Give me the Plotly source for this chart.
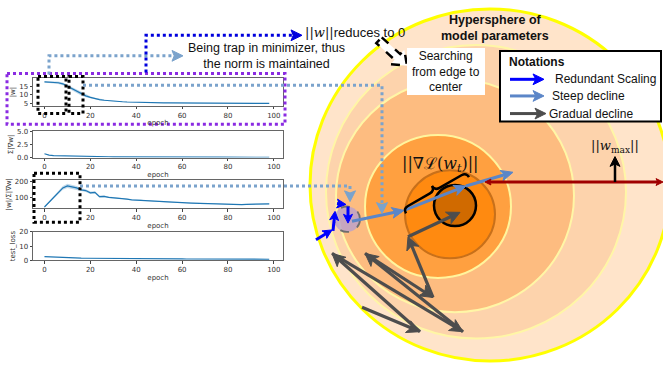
import math
import plotly.graph_objects as go

W, H = 663, 367

# ---------------- training curves (sampled every 2 epochs) ----------------
epochs = list(range(0, 100, 2))

w_norm = [17.4, 17.3, 17.2, 16.9, 16.3, 14.9, 13.5, 12.0, 10.6, 9.5,
          8.6, 7.9, 7.4, 7.0, 6.7, 6.5, 6.3, 6.15, 6.0, 5.9,
          5.82, 5.76, 5.7, 5.66, 5.62, 5.58, 5.55, 5.52, 5.49, 5.47,
          5.45, 5.43, 5.41, 5.39, 5.38, 5.36, 5.35, 5.34, 5.33, 5.32,
          5.31, 5.3, 5.29, 5.28, 5.27, 5.26, 5.25, 5.25, 5.24, 5.23]
w_norm_spread = [0.4, 0.5, 0.6, 0.7, 0.8, 0.9, 1.0, 1.0, 0.9, 0.8,
                 0.6, 0.5, 0.4, 0.3, 0.25, 0.2, 0.18, 0.15, 0.12, 0.1,
                 0.08, 0.08, 0.08, 0.08, 0.08, 0.08, 0.08, 0.08, 0.08, 0.08,
                 0.08, 0.08, 0.08, 0.08, 0.08, 0.08, 0.08, 0.08, 0.08, 0.08,
                 0.08, 0.08, 0.08, 0.08, 0.08, 0.08, 0.08, 0.08, 0.08, 0.08]

grad_sum = [0.72, 0.46, 0.38, 0.35, 0.33, 0.31, 0.29, 0.27, 0.25, 0.23,
            0.21, 0.19, 0.18, 0.17, 0.16, 0.15, 0.14, 0.13, 0.125, 0.12,
            0.115, 0.11, 0.105, 0.1, 0.098, 0.095, 0.092, 0.09, 0.088, 0.086,
            0.084, 0.082, 0.08, 0.079, 0.078, 0.077, 0.076, 0.075, 0.074, 0.073,
            0.072, 0.071, 0.07, 0.069, 0.068, 0.067, 0.066, 0.065, 0.064, 0.063]

ratio = [40, 70, 100, 130, 162, 175, 168, 162, 150, 145,
         131, 134, 106, 108, 102, 100, 96, 94, 90, 86,
         84, 86, 80, 79, 76, 75, 73, 71, 70, 69,
         68, 66, 65, 64, 62, 61, 60, 59, 58, 57,
         57, 56, 57, 56, 57, 58, 59, 59, 60, 60]
ratio_spread = [4, 6, 8, 10, 12, 14, 14, 12, 10, 9,
                8, 7, 6, 5, 5, 4, 4, 3, 3, 3,
                2, 2, 2, 2, 2, 2, 2, 2, 2, 2,
                2, 2, 2, 2, 2, 2, 2, 2, 2, 2,
                2, 2, 2, 2, 2, 2, 2, 2, 2, 2]

test_loss = [2.6, 2.4, 2.3, 2.1, 1.9, 1.7, 1.6, 1.55, 1.5, 1.45,
             1.4, 1.38, 1.35, 1.32, 1.3, 1.28, 1.25, 1.22, 1.2, 1.18,
             1.15, 1.12, 1.1, 1.08, 1.05, 1.03, 1.0, 0.98, 0.96, 0.95,
             0.93, 0.92, 0.9, 0.89, 0.88, 0.87, 0.86, 0.85, 0.84, 0.83,
             0.82, 0.81, 0.8, 0.79, 0.78, 0.77, 0.76, 0.75, 0.74, 0.73]

x_ticks = [0, 20, 40, 60, 80, 100]
panel_labels = ["|w|", "Σ|∇w|", "|w|/Σ|∇w|", "test_loss"]
panel_ticks = [[5, 10, 15], [0, 2.5, 5], [100, 200], [0, 10, 20]]
panel_tick_text = [["5", "10", "15"], ["0.0", "2.5", "5.0"], ["100", "200"], ["0", "10", "20"]]
panel_ranges = [[3.9, 19.4], [0, 5], [31, 212], [0, 20]]
panel_series = [(w_norm, w_norm_spread), (grad_sum, None), (ratio, ratio_spread), (test_loss, None)]

# pixel rows (top, bottom) of each small panel
panel_rows = [(76, 104), (130, 157), (180, 209), (233, 262)]

LINE = "#1f77b4"
BAND = "rgba(31,119,180,0.28)"
MPL_FONT = "DejaVu Sans"
SANS = "Liberation Sans"
SERIF = "DejaVu Serif"

fig = go.Figure()
layout = {}

for i, ((top, bottom), (vals, spread)) in enumerate(zip(panel_rows, panel_series), start=1):
    sid = "" if i == 1 else str(i)
    xa, ya = "x" + sid, "y" + sid
    if spread is not None:
        lower = [v - s for v, s in zip(vals, spread)]
        upper = [v + s for v, s in zip(vals, spread)]
        fig.add_trace(go.Scatter(x=epochs, y=lower, xaxis=xa, yaxis=ya, mode="lines",
                                 line=dict(width=0), hoverinfo="skip", showlegend=False))
        fig.add_trace(go.Scatter(x=epochs, y=upper, xaxis=xa, yaxis=ya, mode="lines",
                                 line=dict(width=0), fill="tonexty", fillcolor=BAND,
                                 hoverinfo="skip", showlegend=False))
    fig.add_trace(go.Scatter(x=epochs, y=vals, xaxis=xa, yaxis=ya, mode="lines",
                             line=dict(color=LINE, width=1.2), showlegend=False))
    common = dict(showline=True, mirror=True, linecolor="#666", linewidth=1,
                  showgrid=False, zeroline=False, ticks="outside", ticklen=2.5,
                  tickwidth=0.8, tickcolor="#444",
                  tickfont=dict(size=7, family=MPL_FONT, color="#333"))
    layout["xaxis" + sid] = dict(domain=[33 / W, 283 / W], anchor=ya, range=[-5, 104],
                                 tickvals=x_ticks,
                                 title=dict(text="epoch", standoff=1,
                                            font=dict(size=7, family=MPL_FONT, color="#333")),
                                 **common)
    layout["yaxis" + sid] = dict(domain=[1 - bottom / H, 1 - top / H], anchor=xa,
                                 range=panel_ranges[i - 1], tickvals=panel_ticks[i - 1],
                                 ticktext=panel_tick_text[i - 1],
                                 title=dict(text=panel_labels[i - 1], standoff=2,
                                            font=dict(size=7, family=MPL_FONT, color="#333")),
                                 **common)

# ---------------- illustration layer (pixel-unit axis over the whole page) ----------------
DX, DY = "x5", "y5"
layout["xaxis5"] = dict(domain=[0, 1], range=[0, W], visible=False, fixedrange=True, anchor="y5")
layout["yaxis5"] = dict(domain=[0, 1], range=[H, 0], visible=False, fixedrange=True, anchor="x5")
fig.add_trace(go.Scatter(x=[None], y=[None], xaxis=DX, yaxis=DY, showlegend=False, hoverinfo="skip"))

shapes = []
annotations = []


def circle(cx, cy, r, fill, edge, width, dash="solid"):
    shapes.append(dict(type="circle", xref=DX, yref=DY, x0=cx - r, x1=cx + r, y0=cy - r, y1=cy + r,
                       fillcolor=fill, line=dict(color=edge, width=width, dash=dash), layer="above"))


def rect(x0, y0, x1, y1, edge=None, width=0, dash="solid", fill="rgba(0,0,0,0)"):
    shapes.append(dict(type="rect", xref=DX, yref=DY, x0=x0, y0=y0, x1=x1, y1=y1, fillcolor=fill,
                       line=dict(color=edge or "rgba(0,0,0,0)", width=width, dash=dash), layer="above"))


def polyline(points, color, width, dash="solid"):
    d = "M " + " L ".join(f"{x},{y}" for x, y in points)
    shapes.append(dict(type="path", xref=DX, yref=DY, path=d,
                       line=dict(color=color, width=width, dash=dash), layer="above"))


def head(tx, ty, ux, uy, color, length, width, notch=0.25):
    px, py = -uy, ux
    bx, by = tx - ux * length, ty - uy * length
    nx, ny = tx - ux * length * (1 - notch), ty - uy * length * (1 - notch)
    d = (f"M {tx},{ty} L {bx + px * width / 2},{by + py * width / 2} L {nx},{ny} "
         f"L {bx - px * width / 2},{by - py * width / 2} Z")
    shapes.append(dict(type="path", xref=DX, yref=DY, path=d, fillcolor=color,
                       line=dict(color=color, width=1), layer="above"))
    return nx, ny


def arrow(p0, p1, color, width, length=10, hw=10, notch=0.25):
    (x0, y0), (x1, y1) = p0, p1
    L = math.hypot(x1 - x0, y1 - y0)
    ux, uy = (x1 - x0) / L, (y1 - y0) / L
    nx, ny = head(x1, y1, ux, uy, color, length, hw, notch)
    polyline([(x0, y0), (nx + ux, ny + uy)], color, width)


def text(s, x, y, size=12, family=SANS, color="#111", xanchor="center"):
    annotations.append(dict(text=s, x=x, y=y, xref=DX, yref=DY, showarrow=False,
                            xanchor=xanchor, yanchor="middle",
                            font=dict(size=size, family=family, color=color)))


# nested shells of the parameter hypersphere
circle(490, 185, 180, "#FFE4CA", "#FFFF00", 3)
circle(476, 192, 150, "#FDD3AC", "#FFF6A6", 2)
circle(455, 196, 119, "#FDBC80", "#FFF6A6", 2)
circle(438, 207, 73, "#FFA040", "#FFF59D", 2)
circle(450, 215, 45, "#FF8A10", "#C8701A", 2)
circle(455, 206, 21, "#D06A00", "#000000", 2.5)

# region visited while redundant scaling
circle(347, 220, 13, "rgba(185,160,205,0.8)", "#6E6E6E", 1.8, dash="dash")

# gradual-decline trajectory
gradual_path = [(362, 310), (420, 335), (332, 255), (463, 335), (365, 255), (433, 300), (408, 238), (460, 213)]
GRAY = "#4D4D4D"
for a, b in zip(gradual_path[:-1], gradual_path[1:]):
    arrow(a, b, GRAY, 3.2, length=13, hw=13)

# steep-decline trajectory
STEEP = "#5B86C8"
steep_path = [(352, 222), (404, 211), (466, 186), (513, 172)]
for a, b in zip(steep_path[:-1], steep_path[1:]):
    arrow(a, b, STEEP, 3, length=12, hw=11)

# redundant-scaling jitter
BLUE = "#0000FF"
for a, b in [((316, 241), (332, 231)), ((333, 232), (335, 212)),
             ((337, 204), (346, 205)), ((348, 207), (348, 224))]:
    arrow(a, b, BLUE, 3, length=9, hw=9)

# curly brace along the gradient step
A, B, h = (406, 214), (469, 177), 11
Lb = math.hypot(B[0] - A[0], B[1] - A[1])
ux, uy = (B[0] - A[0]) / Lb, (B[1] - A[1]) / Lb
nx_, ny_ = uy, -ux
if ny_ > 0:
    nx_, ny_ = -nx_, -ny_


def bp(t, s):
    return f"{A[0] + ux * t + nx_ * s:.2f},{A[1] + uy * t + ny_ * s:.2f}"


q = h / 2
brace = (f"M {bp(0, 0)} Q {bp(0, q)} {bp(q, q)} L {bp(Lb / 2 - q, q)} "
         f"Q {bp(Lb / 2, q)} {bp(Lb / 2, 2 * q)} Q {bp(Lb / 2, q)} {bp(Lb / 2 + q, q)} "
         f"L {bp(Lb - q, q)} Q {bp(Lb, q)} {bp(Lb, 0)}")
shapes.append(dict(type="path", xref=DX, yref=DY, path=brace,
                   line=dict(color="#000", width=2.5), layer="above"))
text("||∇ℒ(<i>w</i><sub><i>t</i></sub>)||", 440, 164, size=16, family=SERIF, color="#111")

# radius of the hypersphere
RED = "#A00000"
polyline([(489, 182), (657, 182)], RED, 3)
head(663, 182, 1, 0, RED, 7, 7)
head(485, 182, -1, 0, RED, 6, 6)
arrow((615, 182), (615, 156), "#000", 2.5, length=10, hw=10)
text("||<i>w</i><sub>max</sub>||", 615, 146, size=13, family=SERIF, color="#111")

# title of the hypersphere
text("<b>Hypersphere of<br>model parameters</b>", 495, 25, size=12.5)

# "searching" icon and caption
icon_tail, icon_tip = (379, 37), (407, 63)
Li = math.hypot(icon_tip[0] - icon_tail[0], icon_tip[1] - icon_tail[1])
iu = ((icon_tip[0] - icon_tail[0]) / Li, (icon_tip[1] - icon_tail[1]) / Li)
ip = (-iu[1], iu[0])


def ipt(t, s):
    return f"{icon_tail[0] + iu[0] * t + ip[0] * s:.2f},{icon_tail[1] + iu[1] * t + ip[1] * s:.2f}"


icon = (f"M {ipt(0, -4)} L {ipt(Li - 13, -4)} L {ipt(Li - 13, -10)} L {ipt(Li, 0)} "
        f"L {ipt(Li - 13, 10)} L {ipt(Li - 13, 4)} L {ipt(0, 4)} Z")
shapes.append(dict(type="path", xref=DX, yref=DY, path=icon, fillcolor="#FFFFFF",
                   line=dict(color="#000", width=2.5, dash="dash"), layer="above"))
rect(407, 45, 485, 93, fill="#FFFFFF")
text("Searching<br>from edge to<br>center", 446, 69, size=12)

# notation box
rect(500, 48, 661, 120, edge="#000", width=2, fill="#FFFFFF")
text("<b>Notations</b>", 507, 59, size=12, xanchor="left")
arrow((510, 77), (544, 77), BLUE, 3, length=11, hw=11)
text("Redundant Scaling", 553, 77, size=12, xanchor="left")
arrow((510, 94), (544, 94), STEEP, 3, length=11, hw=11)
text("Steep decline", 550, 94, size=12, xanchor="left")
arrow((510, 112), (546, 112), GRAY, 3, length=11, hw=11)
text("Gradual decline", 547, 112, size=12, xanchor="left")

# highlight frames on the training curves
rect(7, 71, 285, 123, edge="#8A2BE2", width=3, dash="dot")
rect(38, 74, 66, 112, edge="#000", width=3, dash="dot")
rect(69, 74, 83, 112, edge="#000", width=3, dash="dot")
rect(34, 173, 80, 223, edge="#000", width=3, dash="dot")

# dotted call-outs
LBLUE = "#7BA3CC"
polyline([(83, 83), (382, 83), (382, 204)], LBLUE, 3, dash="dot")
head(382, 214, 0, 1, LBLUE, 11, 11, notch=0.2)
polyline([(80, 186), (350, 186), (350, 192)], LBLUE, 3, dash="dot")
head(350, 202, 0, 1, LBLUE, 11, 11, notch=0.2)
polyline([(49, 72), (49, 53), (172, 53)], LBLUE, 3, dash="dot")
head(183, 53, 1, 0, LBLUE, 11, 11, notch=0.2)
text("Being trap in minimizer, thus<br>the norm is maintained", 266, 53, size=12.5)

DBLUE = "#0000DD"
polyline([(146, 70), (146, 32), (292, 32)], DBLUE, 3, dash="dot")
head(302, 32, 1, 0, DBLUE, 11, 11, notch=0.2)
text("<span style='font-family:DejaVu Serif'>||<i>w</i>||</span>reduces to 0", 303, 29,
     size=13, xanchor="left")

layout.update(dict(width=W, height=H, margin=dict(l=0, r=0, t=0, b=0),
                   paper_bgcolor="#FFFFFF", plot_bgcolor="rgba(0,0,0,0)",
                   showlegend=False, shapes=shapes, annotations=annotations))
fig.update_layout(**layout)
fig.write_html("out.html")
